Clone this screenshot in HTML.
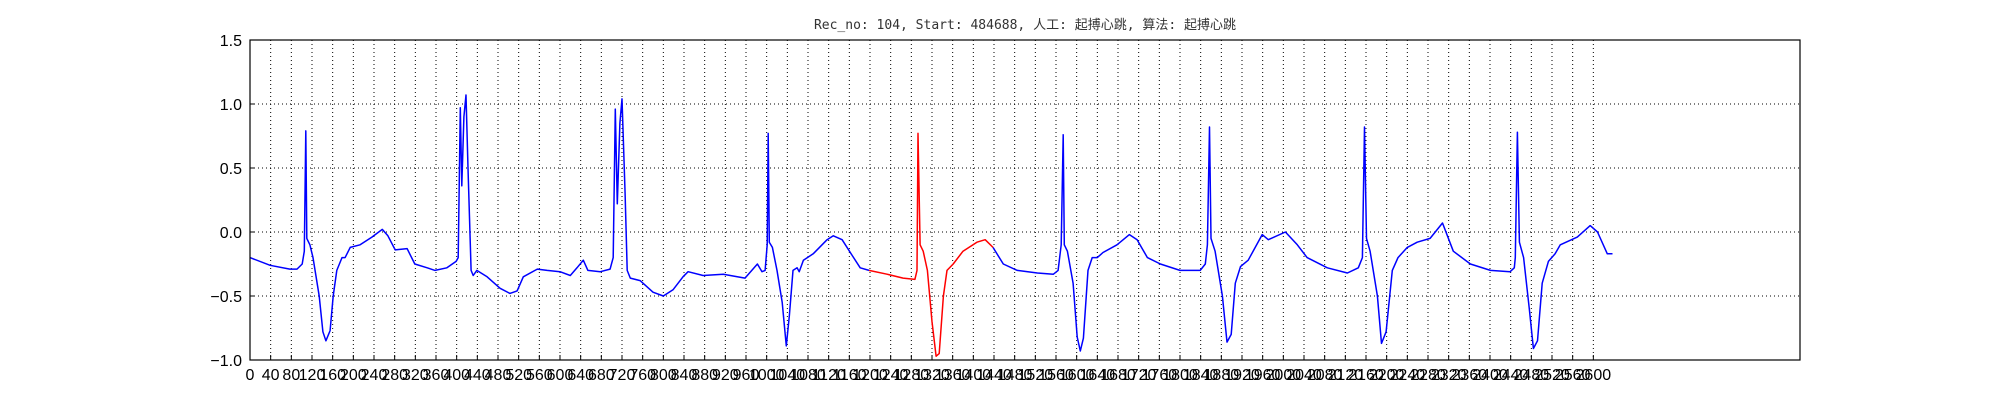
<!DOCTYPE html>
<html><head><meta charset="utf-8">
<style>
html,body{margin:0;padding:0;background:#fff;}
svg{display:block;}
</style></head>
<body>
<svg id="chart" width="2000" height="400" xmlns="http://www.w3.org/2000/svg">
<rect width="2000" height="400" fill="#fff"/>
<text x="1025" y="29" text-anchor="middle" font-family="'DejaVu Sans Mono','Liberation Mono','Noto Sans CJK SC',monospace" font-size="13" fill="#333">Rec_no: 104, Start: 484688, 人工: 起搏心跳, 算法: 起搏心跳</text>
<g id="grid"></g>
<g id="series"></g>
<rect x="250" y="40" width="1550" height="320" fill="none" stroke="#000" stroke-width="1.2"/>
<g id="axes"></g>
</svg>
<script>
const sampleIdx = [0,39,77,91,101,105,108,110,116,122,134,141,147,155,161,168,178,184,194,213,236,256,267,281,304,319,343,358,381,399,403,407,410,414,418,422,428,432,439,459,484,503,517,529,556,575,600,620,633,645,654,678,697,703,707,711,716,720,726,730,736,755,780,800,819,838,848,877,916,958,982,991,997,1001,1003,1005,1011,1020,1030,1038,1044,1051,1059,1063,1071,1090,1117,1129,1146,1165,1181,1198,1233,1264,1287,1291,1293,1297,1303,1311,1320,1328,1334,1342,1349,1361,1380,1407,1423,1438,1458,1485,1524,1555,1564,1570,1574,1576,1582,1593,1601,1607,1613,1622,1630,1640,1651,1678,1702,1717,1737,1762,1800,1839,1849,1853,1857,1860,1868,1882,1891,1899,1907,1917,1932,1959,1971,2004,2027,2046,2085,2124,2145,2153,2157,2161,2168,2182,2190,2199,2211,2222,2240,2259,2284,2308,2329,2362,2401,2439,2447,2449,2453,2457,2465,2476,2484,2492,2501,2513,2526,2536,2569,2594,2608,2627,2637];
const ecgValues = [-0.2,-0.26,-0.29,-0.29,-0.25,-0.15,0.79,-0.05,-0.1,-0.2,-0.5,-0.78,-0.85,-0.77,-0.5,-0.3,-0.2,-0.2,-0.12,-0.1,-0.04,0.02,-0.03,-0.14,-0.13,-0.25,-0.28,-0.3,-0.28,-0.23,-0.2,0.97,0.36,0.9,1.07,0.5,-0.3,-0.34,-0.3,-0.35,-0.44,-0.48,-0.46,-0.35,-0.29,-0.3,-0.31,-0.34,-0.28,-0.22,-0.3,-0.31,-0.29,-0.2,0.96,0.22,0.85,1.04,0.3,-0.3,-0.36,-0.38,-0.47,-0.5,-0.45,-0.35,-0.31,-0.34,-0.33,-0.36,-0.25,-0.31,-0.3,-0.1,0.77,-0.08,-0.12,-0.3,-0.55,-0.89,-0.65,-0.3,-0.28,-0.31,-0.22,-0.17,-0.06,-0.03,-0.06,-0.18,-0.28,-0.3,-0.33,-0.36,-0.37,-0.3,0.77,-0.1,-0.15,-0.3,-0.7,-0.97,-0.95,-0.5,-0.3,-0.25,-0.15,-0.08,-0.06,-0.12,-0.25,-0.3,-0.32,-0.33,-0.3,-0.1,0.76,-0.1,-0.15,-0.4,-0.82,-0.93,-0.83,-0.3,-0.2,-0.2,-0.16,-0.1,-0.02,-0.06,-0.2,-0.25,-0.3,-0.3,-0.25,-0.1,0.82,-0.05,-0.15,-0.5,-0.86,-0.8,-0.4,-0.27,-0.22,-0.02,-0.06,0.0,-0.1,-0.2,-0.28,-0.32,-0.28,-0.2,0.82,-0.05,-0.15,-0.5,-0.87,-0.78,-0.3,-0.2,-0.12,-0.08,-0.05,0.07,-0.15,-0.25,-0.3,-0.31,-0.28,-0.2,0.78,-0.08,-0.2,-0.6,-0.91,-0.85,-0.4,-0.23,-0.17,-0.1,-0.04,0.05,0.0,-0.17,-0.17];
const highlightRange = [1198, 1438];
const yTicks = [-1.0,-0.5,0.0,0.5,1.0,1.5];
const yTickLabels = ["\u22121.0","\u22120.5","0.0","0.5","1.0","1.5"];
const xTickStep = 40;
const xTickMax = 2600;
const xDomain = [0, 3000];
const yDomain = [-1, 1.5];

const L=250,R=1800,T=40,B=360;
const NS='http://www.w3.org/2000/svg';
function sx(u){return L+(u-xDomain[0])/(xDomain[1]-xDomain[0])*(R-L);}
function sy(v){return B-(v-yDomain[0])/(yDomain[1]-yDomain[0])*(B-T);}
function mk(tag,attrs){const e=document.createElementNS(NS,tag);for(const k in attrs)e.setAttribute(k,attrs[k]);return e;}
const grid=document.getElementById('grid'),axes=document.getElementById('axes'),series=document.getElementById('series');

for(let i=0;i<yTicks.length;i++){
  const y=sy(yTicks[i]);
  const g=mk('line',{x1:L,x2:R,y1:y,y2:y,stroke:'#000','stroke-width':1,'stroke-dasharray':'1,3'});
  
  
  grid.appendChild(g);
  const t=mk('text',{x:L-8,y:y+6,'text-anchor':'end','font-family':'Liberation Sans, sans-serif','font-size':16,fill:'#000'});
  t.textContent=yTickLabels[i];
  
  
  axes.appendChild(t);
  const tk=mk('line',{x1:L,x2:L+5,y1:y,y2:y,stroke:'#000'});
  
  
  axes.appendChild(tk);
}
for(let u=0;u<=xTickMax;u+=xTickStep){
  const x=sx(u);
  const g=mk('line',{x1:x,x2:x,y1:T,y2:B,stroke:'#000','stroke-width':1,'stroke-dasharray':'1,3'});
  
  
  grid.appendChild(g);
  const tk=mk('line',{x1:x,x2:x,y1:B,y2:B-5,stroke:'#000'});
  
  
  axes.appendChild(tk);
  const t=mk('text',{x:x,y:B+20,'text-anchor':'middle','font-family':'Liberation Sans, sans-serif','font-size':16,fill:'#000'});
  t.textContent=String(u);
  
  
  axes.appendChild(t);
}
function pts(filter){let s=[];for(let i=0;i<sampleIdx.length;i++){if(filter(sampleIdx[i]))s.push(sx(sampleIdx[i]).toFixed(1)+','+sy(ecgValues[i]).toFixed(1));}return s.join(' ');}
const blue=mk('polyline',{points:pts(u=>u<=highlightRange[0]),fill:'none',stroke:'#0000ff','stroke-width':1.5,'stroke-linejoin':'round'});


series.appendChild(blue);
const blue2=mk('polyline',{points:pts(u=>u>=highlightRange[1]),fill:'none',stroke:'#0000ff','stroke-width':1.5,'stroke-linejoin':'round'});


series.appendChild(blue2);
const red=mk('polyline',{points:pts(u=>u>=highlightRange[0]&&u<=highlightRange[1]),fill:'none',stroke:'#ff0000','stroke-width':1.5,'stroke-linejoin':'round'});


series.appendChild(red);
</script>
</body></html>
